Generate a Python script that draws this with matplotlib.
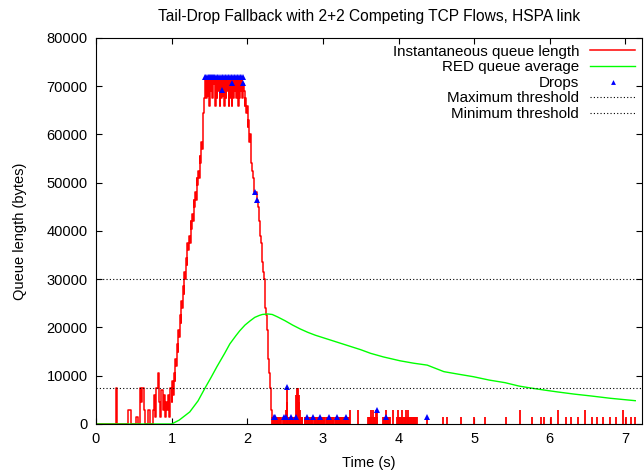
import numpy as np
import matplotlib
matplotlib.use('Agg')
import matplotlib.pyplot as plt

plt.rcParams['font.family'] = ['Liberation Sans', 'DejaVu Sans']

# instantaneous queue length (bytes) up to the drain, drawn as steps
t_queue = [0.0, 0.26, 0.275, 0.43, 0.46, 0.53, 0.555, 0.585, 0.60, 0.615, 0.63, 0.645,
           0.69, 0.71, 0.75, 0.765, 0.78, 0.80, 0.815, 0.83, 0.845, 0.865, 0.88, 0.895,
           0.91, 0.925, 0.94, 0.955, 0.97, 0.985,
           1.00, 1.01, 1.02, 1.03, 1.04, 1.05, 1.06, 1.07, 1.08, 1.09, 1.10, 1.11, 1.12,
           1.13, 1.14, 1.15, 1.16, 1.17, 1.18, 1.19, 1.20, 1.21, 1.22, 1.23, 1.24, 1.25,
           1.26, 1.27, 1.28, 1.29, 1.30, 1.31, 1.32, 1.33, 1.34, 1.35, 1.36, 1.37, 1.38,
           1.39, 1.40, 1.41, 1.42, 1.43, 1.445,
           1.455, 1.465, 1.475, 1.485, 1.495, 1.505, 1.515, 1.525, 1.535, 1.545, 1.555,
           1.565, 1.575, 1.585, 1.595, 1.605, 1.615, 1.625, 1.635, 1.645, 1.655, 1.665,
           1.675, 1.685, 1.695, 1.705, 1.715, 1.725, 1.735, 1.745, 1.755, 1.765, 1.775,
           1.785, 1.795, 1.805, 1.815, 1.825, 1.835, 1.845, 1.855, 1.865, 1.875, 1.885,
           1.895, 1.905, 1.915, 1.925, 1.935, 1.945, 1.955, 1.965,
           1.975, 1.985, 1.995, 2.005, 2.015, 2.025, 2.035, 2.045, 2.055, 2.065, 2.075,
           2.085, 2.095, 2.11, 2.125, 2.14, 2.15, 2.16, 2.17, 2.18, 2.19, 2.20, 2.21, 2.22,
           2.23, 2.24, 2.25, 2.26, 2.27, 2.28, 2.29, 2.30, 2.31, 2.32, 2.325]
q_queue = [0, 7500, 0, 3000, 0, 1500, 0, 7500, 4500, 7500, 3000, 0,
           3000, 0, 3000, 6000, 1500, 7500, 10500, 4500, 1500, 7000, 3000, 6000,
           1500, 4500, 3000, 6000, 1500, 7500,
           4500, 9000, 6000, 10500, 9000, 13500, 12000, 16500, 15000, 19500, 18000, 22500, 21000,
           25500, 24000, 28500, 27000, 31500, 30000, 34500, 33000, 37500, 36000, 39000, 37500, 42000,
           40500, 43500, 42000, 46500, 45000, 48000, 46500, 51000, 49500, 52500, 51000, 55500, 54000,
           58500, 57000, 61500, 64500, 67500, 72000,
           67500, 72000, 68000, 72000, 66000, 72000, 69000, 72000, 67500, 72000, 70500,
           72000, 66000, 72000, 67500, 72000, 69000, 72000, 66000, 72000, 67500, 72000,
           68000, 72000, 66000, 72000, 67500, 72000, 69000, 72000, 66000, 72000, 67500,
           72000, 66000, 72000, 67500, 72000, 69000, 72000, 67500, 72000, 66000, 72000,
           67500, 72000, 69000, 72000, 67500, 70500, 69000, 66000,
           67500, 64500, 66000, 61500, 63000, 58500, 60000, 55500, 54000, 52500, 51000,
           49500, 48000, 48000, 46500, 45000, 43500, 42000, 39000, 37500, 36000, 33500, 31500, 30000,
           27000, 24000, 22500, 19500, 16500, 13500, 10500, 7500, 4500, 3000, 1500]

# packet arrivals after the drain (time, queue length) drawn as impulses
t_tail = [2.33, 2.34, 2.35, 2.36, 2.37, 2.38, 2.39, 2.40, 2.41, 2.42, 2.43, 2.44,
          2.47, 2.48, 2.49, 2.50, 2.51, 2.52, 2.53, 2.54, 2.55, 2.56, 2.57, 2.58, 2.59, 2.60,
          2.61, 2.62, 2.63, 2.64, 2.65, 2.66, 2.67, 2.68, 2.69, 2.70, 2.71, 2.72, 2.73,
          2.76, 2.77, 2.78, 2.79, 2.80, 2.81, 2.82, 2.83, 2.84, 2.85, 2.86,
          2.88, 2.89, 2.90, 2.91, 2.92, 2.93, 2.94, 2.95, 2.96, 2.97, 2.98, 2.99, 3.00, 3.01, 3.02,
          3.04, 3.05, 3.06, 3.07, 3.08, 3.09, 3.10, 3.11, 3.12, 3.13, 3.14,
          3.16, 3.17, 3.18, 3.19, 3.20, 3.21, 3.22, 3.23, 3.24, 3.25, 3.26,
          3.28, 3.29, 3.30, 3.31, 3.32, 3.33, 3.34, 3.36, 3.47,
          3.60, 3.61, 3.62, 3.63, 3.64, 3.65, 3.66, 3.67, 3.68, 3.69, 3.70, 3.71, 3.72,
          3.80, 3.81, 3.82, 3.83, 3.84, 3.85, 3.86, 3.87, 3.89, 3.93,
          3.98, 3.99, 4.00, 4.01, 4.02, 4.03, 4.04, 4.05, 4.06, 4.07, 4.08, 4.09, 4.10, 4.11,
          4.12, 4.13, 4.14, 4.15, 4.16, 4.17, 4.18, 4.19, 4.20, 4.21, 4.22, 4.23, 4.24,
          4.38, 4.59, 4.64, 4.82, 5.00, 5.15, 5.42, 5.60, 5.77, 5.88, 5.92, 6.01, 6.11,
          6.21, 6.28, 6.37, 6.46, 6.56, 6.63, 6.71, 6.79, 6.88, 6.97, 7.01, 7.07, 7.13]
q_tail = [1500, 1500, 1500, 1500, 1500, 1500, 1500, 1500, 1500, 1500, 1500, 1500,
          1500, 1500, 1500, 1500, 3000, 4500, 7700, 1500, 1500, 1500, 1500, 1500, 1500, 1500,
          1500, 1500, 1500, 1500, 6000, 7500, 7500, 6000, 4500, 3000, 1500, 1500, 1500,
          1500, 1500, 1500, 1500, 1500, 1500, 1500, 1500, 1500, 1500, 1500,
          1500, 1500, 1500, 1500, 1500, 1500, 1500, 1500, 1500, 1500, 1500, 1500, 1500, 1500, 1500,
          1500, 1500, 1500, 1500, 1500, 1500, 1500, 1500, 1500, 1500, 1500,
          1500, 1500, 1500, 1500, 1500, 1500, 1500, 1500, 1500, 1500, 1500,
          1500, 1500, 1500, 1500, 1500, 1500, 1500, 3000, 3000,
          1500, 1500, 1500, 3000, 1500, 1500, 3000, 1500, 1500, 1500, 3000, 3000, 1500,
          1500, 1500, 1500, 1500, 3000, 1500, 1500, 1500, 1500, 3000,
          1500, 3000, 1500, 1500, 1500, 1500, 1500, 3000, 1500, 1500, 1500, 1500, 3000, 1500,
          1500, 3000, 1500, 1500, 1500, 1500, 1500, 1500, 1500, 1500, 1500, 1500, 1500,
          1500, 1500, 1500, 1500, 1500, 1500, 1500, 3000, 1500, 1500, 1500, 1500, 3000,
          1500, 1500, 1500, 3000, 1500, 1500, 1500, 1500, 1500, 3000, 1500, 1500, 1500]

# RED average queue
t_avg = [0.0, 1.0, 1.1, 1.24, 1.35, 1.44, 1.52, 1.6, 1.7, 1.77, 1.85, 1.9, 1.97, 2.04,
         2.1, 2.16, 2.2, 2.27, 2.33, 2.4, 2.5, 2.6, 2.7, 2.8, 2.9, 3.0, 3.1, 3.3, 3.5,
         3.63, 3.8, 4.02, 4.2, 4.38, 4.6, 4.8, 4.99, 5.2, 5.41, 5.59, 5.75, 5.92, 6.1,
         6.32, 6.55, 6.8, 7.13]
q_avg = [0, 0, 800, 2500, 4800, 7400, 9600, 11900, 14600, 16600, 18300, 19300, 20500, 21400,
         22100, 22500, 22700, 22800, 22700, 22200, 21400, 20500, 19700, 19000, 18400, 17900,
         17400, 16400, 15400, 14650, 13900, 13100, 12600, 12200, 10850, 10300, 9800, 9100,
         8560, 7870, 7450, 7050, 6650, 6200, 5800, 5330, 4830]

# drop events
t_drop = [1.445, 1.46, 1.475, 1.49, 1.505, 1.52, 1.535, 1.55, 1.565, 1.58, 1.60, 1.62,
          1.64, 1.66, 1.68, 1.70, 1.72, 1.74, 1.76, 1.78, 1.80, 1.82, 1.84, 1.86, 1.88,
          1.90, 1.92, 1.94, 1.667, 1.795, 1.95, 2.10, 2.135,
          2.35, 2.37, 2.49, 2.51, 2.53, 2.58, 2.64, 2.79, 2.87, 2.96, 3.08, 3.19, 3.30,
          3.71, 3.83, 4.38]
q_drop = [72000] * 28 + [69200, 70700, 70700, 48000, 46500,
          1500, 1500, 1500, 1500, 7700, 1500, 1500, 1500, 1500, 1500, 1500, 1500, 1500,
          3000, 1500, 1500]

max_th = 30000
min_th = 7500

fig = plt.figure(figsize=(6.44, 4.73), dpi=100)
ax = fig.add_axes([0.149, 0.1036, 0.848, 0.8161])

ax.plot(t_queue, q_queue, color='#ff0000', lw=1.1, drawstyle='steps-post', label='Instantaneous queue length')
ax.vlines(t_tail, 0, q_tail, color='#ff0000', lw=1.3)
ax.plot(t_avg, q_avg, color='#00ff00', lw=1, label='RED queue average')
ax.plot(t_drop, q_drop, '^', color='#0000ff', ms=5, mew=0, label='Drops')
ax.axhline(max_th, color='black', ls=(0, (1, 2)), lw=0.8, label='Maximum threshold')
ax.axhline(min_th, color='black', ls=(0, (1, 2)), lw=0.8, label='Minimum threshold')

ax.set_xlim(0, 7.22)
ax.set_ylim(0, 80000)
ax.set_xticks(np.arange(0, 8, 1))
ax.set_yticks(np.arange(0, 80001, 10000))
ax.tick_params(direction='in', top=True, right=True, length=4.5, labelsize=10.5, pad=6)

ax.set_title('Tail-Drop Fallback with 2+2 Competing TCP Flows, HSPA link', fontsize=11.2, pad=12)
ax.set_xlabel('Time (s)', fontsize=10.5, labelpad=7)
ax.set_ylabel('Queue length (bytes)', fontsize=10.5, labelpad=14)

ax.legend(loc='upper right', frameon=False, markerfirst=False, fontsize=10.9,
          handlelength=3.0, handletextpad=0.7, labelspacing=0.1, markerscale=0.7,
          borderpad=0.1, borderaxespad=0.35)

fig.savefig('out.png', dpi=100)
